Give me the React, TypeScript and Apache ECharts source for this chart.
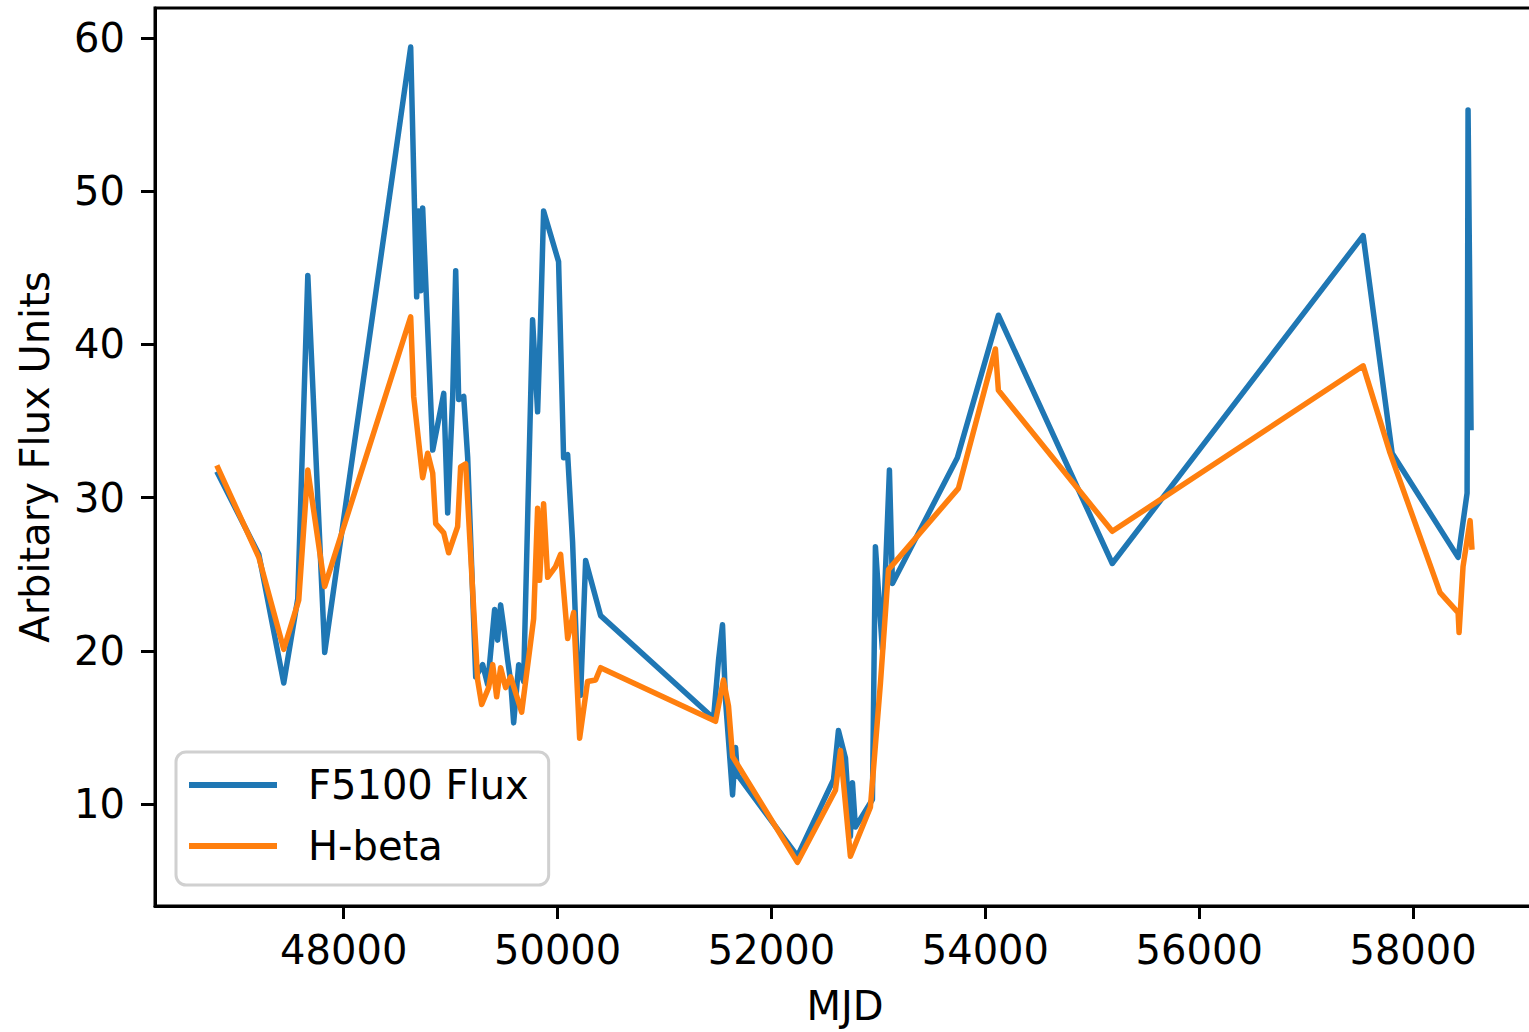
import React, { useEffect, useRef } from "react";
import * as echarts from "echarts";

// F5100 continuum flux
const fluxMJD = [
  46813, 47206, 47439, 47570, 47664, 47822, 48626, 48682, 48701, 48720, 48738,
  48832, 48935, 48972, 49019, 49047, 49075, 49122, 49159, 49234, 49299, 49346,
  49411, 49439, 49467, 49495, 49533, 49561, 49589, 49636, 49682, 49766, 49813,
  49841, 49869, 50009, 50056, 50094, 50140, 50187, 50215, 50262, 50402, 51458,
  51505, 51542, 51570, 51636, 51664, 51682, 52243, 52580, 52626, 52692, 52738,
  52757, 52785, 52944, 52972, 53037, 53103, 53131, 53738, 54122, 55187, 57533,
  57804, 58421, 58505, 58514, 58542,
];
const fluxValues = [
  31.7, 26.3, 17.9, 23.4, 44.5, 19.9, 59.4, 43.1, 48.7, 43.5, 48.9,
  33.1, 36.8, 29.0, 36.6, 44.8, 36.4, 36.6, 32.6, 18.3, 19.1, 17.8,
  22.7, 20.7, 23.0, 21.6, 19.4, 18.0, 15.3, 19.1, 18.0, 41.6, 35.6,
  41.6, 48.7, 45.4, 32.6, 32.8, 27.1, 18.3, 17.1, 25.9, 22.3, 15.6,
  19.4, 21.7, 16.8, 10.6, 13.7, 11.9, 6.6, 11.6, 14.8, 13.0, 7.9,
  11.4, 8.5, 10.3, 26.8, 20.1, 31.8, 24.4, 32.6, 41.9, 25.7, 47.1,
  32.9, 26.1, 30.3, 55.3, 34.4,
];

// H-beta line flux
const hbetaMJD = [
  46813, 47206, 47439, 47579, 47664, 47822, 48626, 48654, 48738, 48785, 48832,
  48860, 48935, 48981, 49065, 49093, 49140, 49252, 49290, 49355, 49393, 49430,
  49467, 49514, 49561, 49664, 49776, 49813, 49832, 49869, 49907, 49981, 50028,
  50094, 50150, 50206, 50280, 50355, 50402, 51477, 51551, 51598, 51636, 52243,
  52598, 52645, 52738, 52925, 53019, 53094, 53748, 54094, 54122, 55187, 57533,
  57785, 58252, 58421, 58430, 58467, 58533, 58551,
];
const hbetaValues = [
  32.1, 26.1, 20.1, 23.3, 31.8, 24.2, 41.8, 36.6, 31.3, 32.9, 31.6,
  28.3, 27.7, 26.4, 28.1, 32.0, 32.2, 18.1, 16.5, 17.6, 19.1, 17.0,
  18.9, 17.6, 18.3, 16.0, 22.1, 29.3, 24.6, 29.6, 24.8, 25.5, 26.3,
  20.8, 22.5, 14.3, 18.0, 18.1, 18.9, 15.4, 18.1, 16.4, 13.1, 6.2,
  10.9, 13.5, 6.6, 9.8, 17.9, 25.3, 30.6, 39.7, 37.0, 27.8, 38.6,
  32.9, 23.8, 22.5, 21.2, 25.5, 28.5, 26.6,
];

const xTicks = [48000, 50000, 52000, 54000, 56000, 58000];
const yTicks = [10, 20, 30, 40, 50, 60];

const seriesNames = ["F5100 Flux", "H-beta"];
const seriesColors = ["#1f77b4", "#ff7f0e"];

const FONT = "DejaVu Sans";

export default function App() {
  const ref = useRef<HTMLDivElement>(null);

  useEffect(() => {
    if (!ref.current) return;
    const chart = echarts.init(ref.current, null, { renderer: "svg" });
    const fluxData = fluxMJD.map((m, i) => [m, fluxValues[i]]);
    const hbetaData = hbetaMJD.map((m, i) => [m, hbetaValues[i]]);

    chart.setOption({
      animation: false,
      backgroundColor: "#ffffff",
      grid: {
        left: 155,
        top: 8,
        width: 1380,
        height: 898,
        outerBoundsMode: "none",
        containLabel: false,
        show: true,
        borderColor: "#000",
        borderWidth: 3,
        backgroundColor: "transparent",
      },
      legend: {
        left: 176,
        top: 752,
        orient: "vertical",
        icon: "rect",
        itemWidth: 88,
        itemHeight: 6,
        itemGap: 17,
        padding: [11, 20, 17, 13],
        backgroundColor: "rgba(255,255,255,0.85)",
        borderColor: "#d0d0d0",
        borderWidth: 3,
        borderRadius: 10,
        data: seriesNames,
        textStyle: {
          fontFamily: FONT,
          fontSize: 40,
          color: "#000",
          lineHeight: 44,
          padding: [0, 0, 0, 26],
        },
      },
      xAxis: {
        type: "value",
        min: 46235,
        max: 59140,
        name: "MJD",
        nameLocation: "middle",
        nameGap: 80,
        nameTextStyle: { fontFamily: FONT, fontSize: 40, color: "#000" },
        axisLine: { show: true, lineStyle: { color: "#000", width: 3 } },
        axisTick: {
          show: true,
          length: 13,
          customValues: xTicks,
          lineStyle: { color: "#000", width: 3 },
        },
        axisLabel: {
          customValues: xTicks,
          formatter: (v: number) => String(Math.round(v)),
          fontFamily: FONT,
          fontSize: 40,
          color: "#000",
          margin: 24,
        },
        splitLine: { show: false },
      },
      yAxis: {
        type: "value",
        min: 3.35,
        max: 61.95,
        name: "Arbitary Flux Units",
        nameLocation: "middle",
        nameRotate: 90,
        nameGap: 100,
        nameTextStyle: { fontFamily: FONT, fontSize: 40, color: "#000" },
        axisLine: { show: true, lineStyle: { color: "#000", width: 3 } },
        axisTick: {
          show: true,
          length: 14,
          customValues: yTicks,
          lineStyle: { color: "#000", width: 3 },
        },
        axisLabel: {
          customValues: yTicks,
          formatter: (v: number) => String(Math.round(v)),
          fontFamily: FONT,
          fontSize: 40,
          color: "#000",
          margin: 30,
        },
        splitLine: { show: false },
      },
      series: [
        {
          name: seriesNames[0],
          type: "line",
          data: fluxData,
          showSymbol: false,
          symbol: "none",
          color: seriesColors[0],
          lineStyle: { color: seriesColors[0], width: 5.5, join: "round" },
        },
        {
          name: seriesNames[1],
          type: "line",
          data: hbetaData,
          showSymbol: false,
          symbol: "none",
          color: seriesColors[1],
          lineStyle: { color: seriesColors[1], width: 5.5, join: "round" },
        },
      ],
    });

    return () => chart.dispose();
  }, []);

  return (
    <div
      ref={ref}
      style={{
        position: "fixed",
        left: 0,
        top: 0,
        width: 1529,
        height: 1032,
        background: "#fff",
      }}
    />
  );
}
